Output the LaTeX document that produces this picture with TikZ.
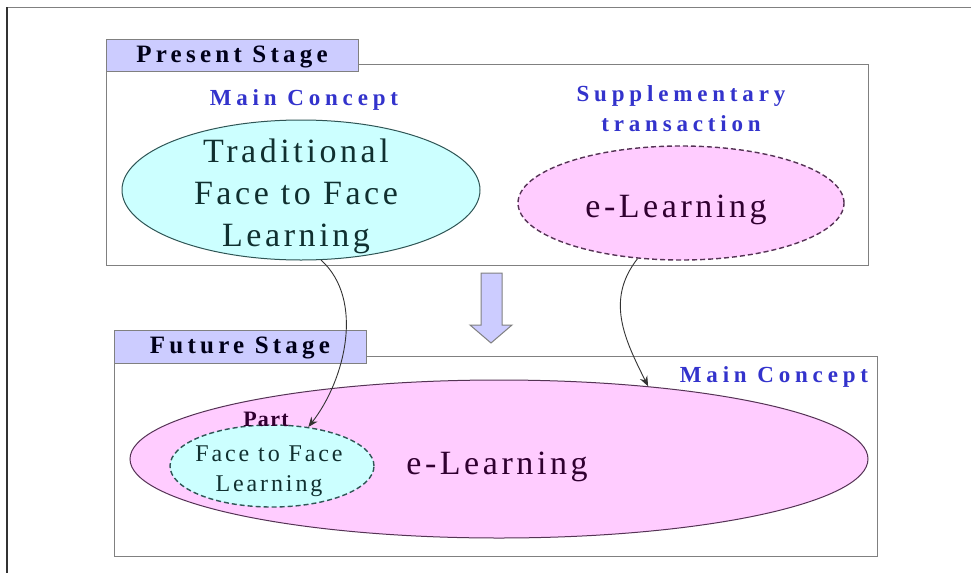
\documentclass[tikz,border=0pt]{standalone}
\usepackage{fontspec}
\setmainfont{Liberation Serif}
\usetikzlibrary{shapes.geometric,arrows.meta}
\definecolor{tabfill}{HTML}{CCCCFF}
\definecolor{cyanfill}{HTML}{CCFFFF}
\definecolor{pinkfill}{HTML}{FFCCFF}
\definecolor{conceptblue}{HTML}{3333CC}
\definecolor{framegray}{HTML}{808080}
\definecolor{cyantext}{HTML}{103030}
\definecolor{pinktext}{HTML}{300030}
\definecolor{cyanline}{HTML}{2F5555}
\definecolor{pinkline}{HTML}{553355}
\newcommand{\spfont}[3]{\fontsize{#1}{#2}\selectfont\addfontfeatures{LetterSpace=#3}}
\tikzset{
  stagebox/.style={draw=framegray, line width=1.1pt, anchor=north west, inner sep=0pt},
  stagetab/.style={draw=framegray, fill=tabfill, line width=1.1pt, anchor=north west, inner sep=0pt},
  tablabel/.style={font={\spfont{25}{28}{17}\bfseries}, text=black!90!blue},
  concept/.style={font={\spfont{23}{30}{21}\bfseries}, text=conceptblue, align=center},
  cyanell/.style={ellipse, draw=cyanline, fill=cyanfill, line width=1pt, inner sep=0pt},
  pinkell/.style={ellipse, draw=pinkline, fill=pinkfill, line width=1pt, inner sep=0pt},
  bigtext/.style={font={\spfont{34}{42}{10.5}}, align=center},
  smalltext/.style={font={\spfont{24}{30}{12}}, align=center, text=cyantext},
  dashline/.style={line width=1.4pt, dash pattern=on 5pt off 3pt},
  flow/.style={draw=black!80, line width=0.9pt, -{Stealth[length=10pt,width=8pt]}}
}
\begin{document}
\begin{tikzpicture}[x=1pt,y=-1pt]
\useasboundingbox (0,0) rectangle (971,573);
\fill[white] (0,0) rectangle (971,573);
% outer frame
\draw[framegray, line width=1pt] (7,7) -- (971,7);
\draw[black!80, line width=2.5pt] (7,7) -- (7,573);

% present stage
\node[stagebox, minimum width=762pt, minimum height=201pt] (pbox) at (106,64) {};
\node[stagetab, minimum width=252pt, minimum height=32pt] (ptab) at (106,39) {};
\node[tablabel] (ptablabel) at (232,57) {Present Stage};
\node[concept] (pmain) at (304,100) {Main Concept};
\node[concept] (psupp) at (681,109) {Supplementary\\transaction};
\node[cyanell, minimum width=358pt, minimum height=140pt] (trad) at (301,190) {};
\node[bigtext, text=cyantext] (tradlabel) at (296,196) {Traditional\\Face to Face\\Learning};
\node[pinkell, dashline, minimum width=326pt, minimum height=114pt] (pel) at (681,203) {};
\node[bigtext, text=pinktext] (pellabel) at (676,210) {e-Learning};

% transition arrow
\draw[framegray, fill=tabfill, line width=1pt]
  (481,273) -- (502,273) -- (502,325) -- (512,325) -- (491,343) -- (470,325) -- (481,325) -- cycle;

% future stage
\node[stagebox, minimum width=763pt, minimum height=200pt] (fbox) at (114,356) {};
\node[stagetab, minimum width=252pt, minimum height=33pt] (ftab) at (114,330) {};
\node[tablabel] (ftablabel) at (240,348) {Future Stage};
\node[pinkell, minimum width=738pt, minimum height=158pt] (fel) at (499,459) {};
\node[concept] (fmain) at (774,377) {Main Concept};
\node[bigtext, text=pinktext] (fellabel) at (497,467) {e-Learning};
\node[cyanell, dashline, minimum width=204pt, minimum height=82pt] (ftf) at (272,466) {};
\node[smalltext] (ftflabel) at (269,471) {Face to Face\\Learning};
\node[font={\spfont{22}{24}{6}\bfseries}, text=pinktext] (part) at (266,419) {Part};

% connectors
\draw[flow] (trad.-74) .. controls (365,300) and (345,380) .. (ftf.47);
\draw[flow] (pel.232) .. controls (605,300) and (625,340) .. (fel.26);
\end{tikzpicture}
\end{document}
